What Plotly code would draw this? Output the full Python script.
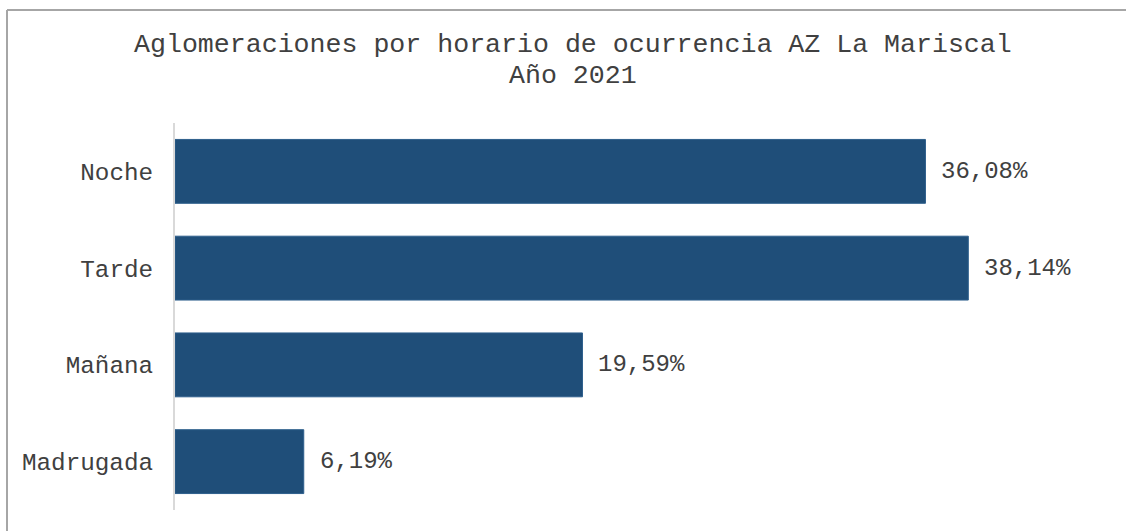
import plotly.graph_objects as go

categories = ["Madrugada", "Mañana", "Tarde", "Noche"]
values = [6.19, 19.59, 38.14, 36.08]
title_line1 = "Aglomeraciones por horario de ocurrencia AZ La Mariscal"
title_line2 = "Año 2021"

FONT = "Courier New, Liberation Mono, monospace"
TXT = "#404040"
W, H = 1126, 531
L, R, T, B = 175, 15, 123, 21
pw, ph = W - L - R, H - T - B

def px_x(px):
    return (px - L) / pw

def px_y(py):
    return (H - B - py) / ph

labels = [f"{v:.2f}".replace(".", ",") + "%" for v in values]

fig = go.Figure(go.Bar(
    y=categories, x=values, orientation="h",
    marker=dict(color="#1F4E79", line=dict(color="#2E5F8C", width=1)),
    width=0.66,
))

for c, v, t in zip(categories, values, labels):
    fig.add_annotation(x=v, y=c, xref="x", yref="y", text=t, showarrow=False,
                       xanchor="left", xshift=14, font=dict(family=FONT, size=24, color=TXT))

fig.add_annotation(x=px_x(573), y=px_y(45), xref="paper", yref="paper", text=title_line1,
                   showarrow=False, xanchor="center", yanchor="middle",
                   font=dict(family=FONT, size=26.6, color=TXT))
fig.add_annotation(x=px_x(573), y=px_y(76), xref="paper", yref="paper", text=title_line2,
                   showarrow=False, xanchor="center", yanchor="middle",
                   font=dict(family=FONT, size=26.6, color=TXT))

# outer border (top and left)
fig.add_shape(type="line", xref="paper", yref="paper", x0=px_x(7), y0=px_y(10), x1=px_x(1140), y1=px_y(10),
              line=dict(color="#A6A6A6", width=2))
fig.add_shape(type="line", xref="paper", yref="paper", x0=px_x(7), y0=px_y(10), x1=px_x(7), y1=px_y(560),
              line=dict(color="#A6A6A6", width=2))

fig.update_layout(
    width=W, height=H,
    margin=dict(l=L, r=R, t=T, b=B),
    paper_bgcolor="white", plot_bgcolor="white",
    showlegend=False,
    font=dict(family=FONT, color=TXT),
    xaxis=dict(range=[0, 45], visible=False, showgrid=False, zeroline=False, fixedrange=True),
    yaxis=dict(categoryorder="array", categoryarray=categories, range=[-0.5, 3.5],
               showline=True, linecolor="#D9D9D9", linewidth=2, ticks="",
               ticklabelstandoff=15, tickfont=dict(family=FONT, size=24.3, color=TXT),
               showgrid=False, zeroline=False, fixedrange=True),
)

fig.write_html("out.html", config={"displayModeBar": False},
               post_script="document.body.style.margin='0';document.body.style.overflow='hidden';")
